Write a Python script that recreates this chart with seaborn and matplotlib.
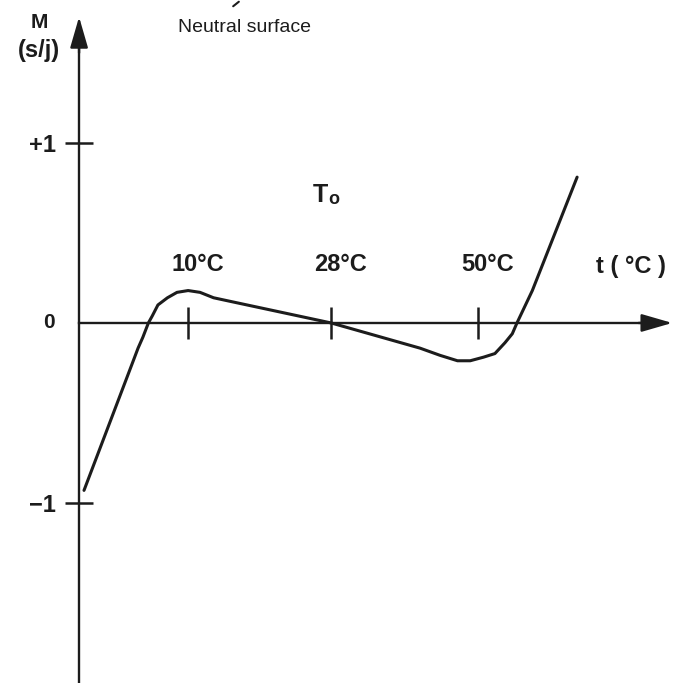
import numpy as np
import matplotlib
matplotlib.use('Agg')
import matplotlib.pyplot as plt
import seaborn as sns

# M (s/j) against water temperature
temp = [-3.1, 3.1, 3.7, 4.3, 5.0, 5.5, 6.2, 7.4, 8.6, 10.0, 11.5, 13.2, 15.3, 28.0,
        41.3, 44.3, 46.9, 48.8, 50.8, 52.5, 54.0, 55.1, 55.8, 58.1, 64.8]
moment = [-0.93, -0.21, -0.14, -0.08, 0.0, 0.04, 0.10, 0.14, 0.17, 0.18, 0.17, 0.14, 0.12, 0.0,
          -0.14, -0.18, -0.21, -0.21, -0.19, -0.17, -0.11, -0.06, 0.0, 0.18, 0.81]

tick_temps = [10, 28, 50]
tick_labels = ['10°C', '28°C', '50°C']
y_ticks = [-1, 1]
y_tick_labels = ['−1', '+1']

# the sketch is not to scale, spacing between marked temperatures differs
scale_temps = [-30, 10, 28, 50, 100]
scale_pos = [-129.8, 188, 331, 478, 812]

W, H = 674, 683
ink = '#1c1c1c'

sns.set_style('white')
plt.rcParams['font.family'] = ['Liberation Sans', 'DejaVu Sans']

fig = plt.figure(figsize=(W / 100, H / 100), dpi=100)
ax = fig.add_axes([0, 0, 1, 1])

sns.lineplot(x=temp, y=moment, sort=False, estimator=None, ax=ax, color=ink, linewidth=2.2)
for ln in ax.lines:
    ln.set_solid_joinstyle('round')
    ln.set_solid_capstyle('round')

fwd = lambda t: np.interp(t, scale_temps, scale_pos)
inv = lambda p: np.interp(p, scale_pos, scale_temps)
ax.set_xscale('function', functions=(fwd, inv))
ax.set_xlim(-13.67, 79.3)
ax.set_ylim(-2.0, 1.794)

t0 = -3.72  # where the M axis sits

ax.spines['top'].set_visible(False)
ax.spines['right'].set_visible(False)
ax.spines['left'].set_position(('data', t0))
ax.spines['bottom'].set_position(('data', 0))
ax.spines['left'].set_bounds(-2.0, 1.6)
ax.spines['bottom'].set_bounds(t0, 77)
for s in ['left', 'bottom']:
    ax.spines[s].set_linewidth(1.7)
    ax.spines[s].set_color(ink)

# arrow heads
head = dict(arrowstyle='-|>,head_length=1.9,head_width=0.55', color=ink, lw=1.7,
            mutation_scale=10, shrinkA=0, shrinkB=0)
ax.annotate('', xy=(t0, 1.70), xytext=(t0, 1.5), arrowprops=head)
ax.annotate('', xy=(79.04, 0), xytext=(74, 0), arrowprops=head)

ax.set_xticks(tick_temps)
ax.set_xticklabels([])
ax.tick_params(axis='x', bottom=True, direction='inout', length=23, width=1.8,
               colors=ink, labelbottom=False)
ax.set_yticks(y_ticks)
ax.set_yticklabels(y_tick_labels, fontsize=17, fontweight='bold')
ax.tick_params(axis='y', left=True, direction='inout', length=19.5, width=1.8, pad=7, colors=ink)
ax.set_xlabel('')
ax.set_ylabel('')

for t, lab in zip(tick_temps, tick_labels):
    ax.annotate(lab, xy=(t, 0), xytext=(7, 42), textcoords='offset points',
                ha='center', va='center', fontsize=17, fontweight='bold', color=ink)


def fxy(px, py):
    return px / W, 1 - py / H


fig.text(*fxy(631, 266), 't ( °C )', ha='center', va='center', fontsize=17, fontweight='bold', color=ink)
fig.text(*fxy(320, 195), 'T', ha='center', va='center', fontsize=18, fontweight='bold', color=ink)
fig.text(*fxy(334, 200), 'o', ha='center', va='center', fontsize=13, fontweight='bold', color=ink)
fig.text(*fxy(49, 322), '0', ha='center', va='center', fontsize=15, fontweight='bold', color=ink)
fig.text(*fxy(39, 22), 'M', ha='center', va='center', fontsize=15, fontweight='bold', color=ink)
fig.text(*fxy(39, 50), '(s/j)', ha='center', va='center', fontsize=17, fontweight='bold', color=ink)
fig.text(*fxy(245, 28), 'Neutral surface', ha='center', va='center', fontsize=14, color=ink)

# bit of the leader line cut off at the top
ax.annotate('', xy=(241 / W, 1.0), xytext=(231 / W, 1 - 8 / H), xycoords='figure fraction',
            textcoords='figure fraction', arrowprops=dict(arrowstyle='-', color=ink, lw=1.5))

fig.savefig('out.png', dpi=100, facecolor='white')
